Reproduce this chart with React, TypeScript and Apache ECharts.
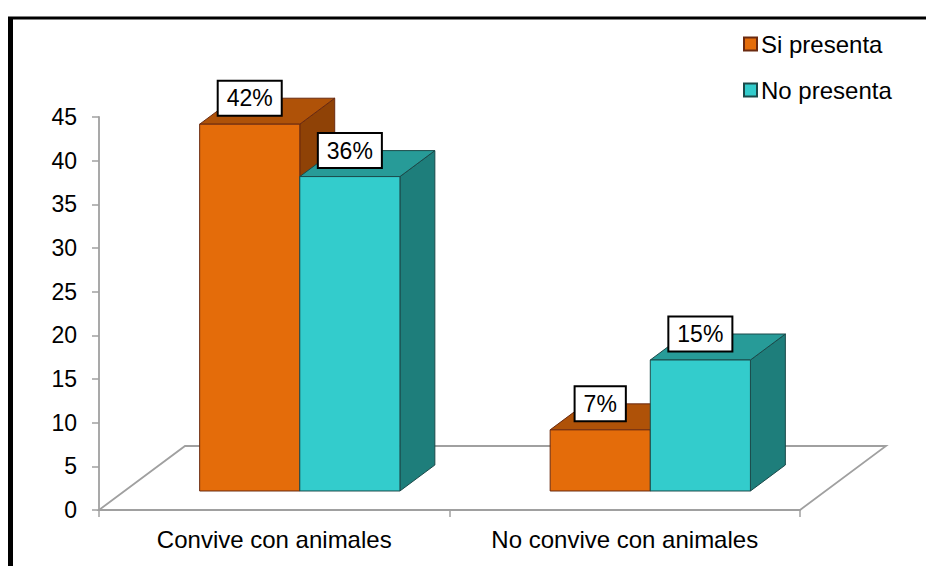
import React, { useEffect, useRef } from "react";
import * as echarts from "echarts";

// Categories and values (counts, which equal the percentage shown on each bar)
const categories = ["Convive con animales", "No convive con animales"];
const seriesNames = ["Si presenta", "No presenta"];
const siPresenta = [42, 7];
const noPresenta = [36, 15];
const yMin = 0;
const yMax = 45;
const yInterval = 5;

// Face colours for the extruded columns: front, top, side, outline
const palette = [
  { front: "#E46C0A", top: "#AF5208", side: "#8F4206", stroke: "#6A2A10" },
  { front: "#33CCCC", top: "#279B98", side: "#1E7E7B", stroke: "#1B4A4A" },
];

// Oblique depth of the floor (pixels) and where the columns sit inside it
const DEPTH_X = 86;
const DEPTH_Y = -64;
const FRONT_T = 0.297;
const BAR_T = 0.406;

const FONT = "Liberation Sans, Arial, Helvetica, sans-serif";

function makeBarRenderer(slot: number) {
  const c = palette[slot];
  return (params: any, api: any) => {
    const cat = api.value(0);
    const v = api.value(1);
    const base = api.coord([cat, 0]);
    const top = api.coord([cat, v]);
    const band = api.size([1, 0])[0];
    const barW = (band * 2) / 7;
    const fx = DEPTH_X * FRONT_T;
    const fy = DEPTH_Y * FRONT_T;
    const dx = DEPTH_X * BAR_T;
    const dy = DEPTH_Y * BAR_T;
    const x0 = base[0] - barW + slot * barW + fx;
    const x1 = x0 + barW;
    const yB = base[1] + fy;
    const yT = top[1] + fy;
    return {
      type: "group",
      children: [
        {
          type: "polygon",
          shape: { points: [[x1, yT], [x1 + dx, yT + dy], [x1 + dx, yB + dy], [x1, yB]] },
          style: { fill: c.side, stroke: c.stroke, lineWidth: 1 },
        },
        {
          type: "polygon",
          shape: { points: [[x0, yT], [x1, yT], [x1 + dx, yT + dy], [x0 + dx, yT + dy]] },
          style: { fill: c.top, stroke: c.stroke, lineWidth: 1 },
        },
        {
          type: "rect",
          shape: { x: x0, y: yT, width: barW, height: yB - yT },
          style: { fill: c.front, stroke: c.stroke, lineWidth: 1 },
        },
        {
          type: "text",
          z2: 10,
          style: {
            text: `${v}%`,
            x: (x0 + x1) / 2,
            y: yT + dy,
            align: "center",
            verticalAlign: "middle",
            fontSize: 23,
            fontFamily: FONT,
            fill: "#000",
            backgroundColor: "#fff",
            borderColor: "#000",
            borderWidth: 2,
            padding: [5, 8, 5, 8],
          },
        },
      ],
    };
  };
}

function renderFloor(params: any, api: any) {
  const base = api.coord([0, 0]);
  const band = api.size([1, 0])[0];
  const left = base[0] - band / 2;
  const right = left + band * categories.length;
  const y = base[1];
  return {
    type: "polygon",
    shape: {
      points: [
        [left, y],
        [left + DEPTH_X, y + DEPTH_Y],
        [right + DEPTH_X, y + DEPTH_Y],
        [right, y],
      ],
    },
    style: { fill: "none", stroke: "#A0A0A0", lineWidth: 1.8 },
  };
}

export default function App() {
  const ref = useRef<HTMLDivElement>(null);

  useEffect(() => {
    if (!ref.current) return;
    const chart = echarts.init(ref.current, undefined, { renderer: "svg" });
    const values = [siPresenta, noPresenta];
    chart.setOption({
      animation: false,
      backgroundColor: "#fff",
      grid: { left: 99, right: 126, top: 117, bottom: 56, containLabel: false },
      legend: {
        orient: "vertical",
        left: 743,
        top: 32,
        padding: 0,
        itemWidth: 13,
        itemHeight: 13,
        itemGap: 22,
        icon: "rect",
        selectedMode: false,
        data: seriesNames,
        textStyle: { fontSize: 24, fontFamily: FONT, color: "#000", lineHeight: 24, padding: [0, 0, 0, -1] },
      },
      xAxis: {
        type: "category",
        data: categories,
        boundaryGap: true,
        axisLine: { show: true, lineStyle: { color: "#A0A0A0", width: 1.8 } },
        axisTick: { show: true, length: 7, lineStyle: { color: "#A0A0A0", width: 1.5 } },
        axisLabel: { fontSize: 24, fontFamily: FONT, color: "#000", margin: 17 },
        splitLine: { show: false },
      },
      yAxis: {
        type: "value",
        min: yMin,
        max: yMax,
        interval: yInterval,
        axisLine: { show: true, lineStyle: { color: "#A0A0A0", width: 1.8 } },
        axisTick: { show: true, length: 7, lineStyle: { color: "#A0A0A0", width: 1.5 } },
        axisLabel: { fontSize: 23, fontFamily: FONT, color: "#000", margin: 22 },
        splitLine: { show: false },
      },
      graphic: [
        { type: "rect", shape: { x: 8, y: 17, width: 5, height: 560 }, style: { fill: "#000" }, z: 100 },
        { type: "rect", shape: { x: 8, y: 16.5, width: 930, height: 3 }, style: { fill: "#000" }, z: 100 },
      ],
      series: [
        {
          type: "custom",
          name: "floor",
          silent: true,
          z: 1,
          data: [[0, 0]],
          renderItem: renderFloor,
        },
        ...seriesNames.map((name, i) => ({
          type: "custom",
          name,
          silent: true,
          z: 2 + i,
          itemStyle: { color: palette[i].front, borderColor: palette[i].stroke, borderWidth: 1 },
          encode: { x: 0, y: 1 },
          data: values[i].map((v, k) => [k, v]),
          renderItem: makeBarRenderer(i),
        })),
      ],
    });
    return () => chart.dispose();
  }, []);

  return (
    <div
      ref={ref}
      style={{ position: "fixed", left: 0, top: 0, width: 926, height: 566, background: "#fff" }}
    />
  );
}
